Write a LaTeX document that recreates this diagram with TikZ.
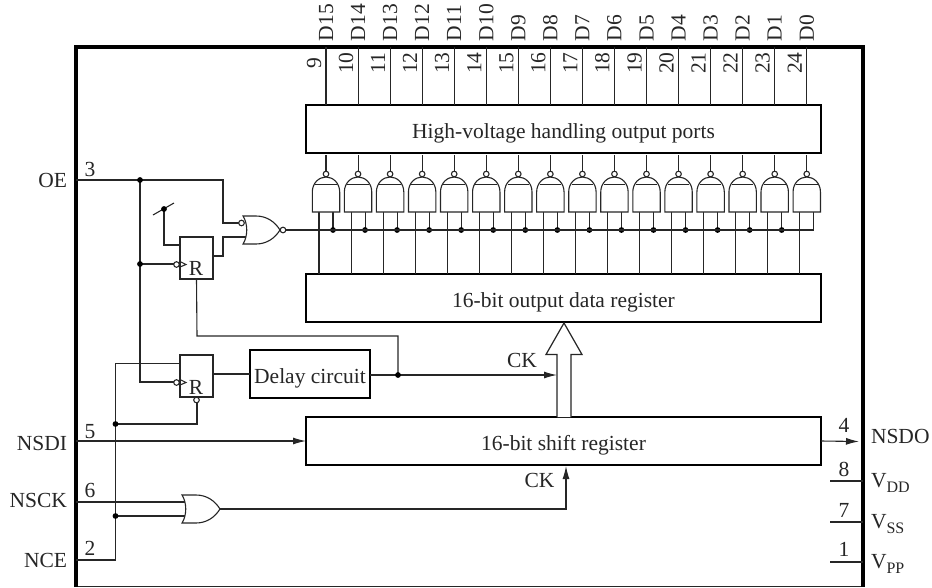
\documentclass[tikz,border=0pt]{standalone}
\usepackage{fontspec}
\setmainfont{Liberation Serif}
\usetikzlibrary{arrows.meta}
\definecolor{ink}{HTML}{262626}
\tikzset{
  wire/.style={draw=ink,line width=1.1pt},
  sig/.style={wire,-{Latex[length=13pt,width=7pt]}},
  block/.style={draw=black,line width=1.5pt,fill=white,inner sep=0pt,outer sep=0pt,text=ink,text height=18pt,text depth=0pt,font=\fontsize{21.5}{24}\selectfont},
  lbl/.style={inner sep=0pt,outer sep=0pt,text=ink,font=\fontsize{21.5}{24}\selectfont},
  gate/.style={draw=ink,line width=1.1pt,fill=white},
  bubble/.style={draw=ink,line width=1.1pt,fill=white},
  jn/.style={fill=black},
}
\newcommand{\Vsub}[1]{V\raisebox{-5pt}{\fontsize{16}{18}\selectfont #1}}
\begin{document}
\begin{tikzpicture}[x=1pt,y=-1pt]
\useasboundingbox (0,0) rectangle (932,587);
% chip outline
\draw[draw=ink,line width=1pt] (76,586) -- (863,586);
\draw[black,line width=3.4pt] (76,587) -- (76,47) -- (863,47) -- (863,587);
% blocks
\node[block,minimum width=515pt,minimum height=48pt] (hv) at (563.5,129) {High-voltage handling output ports};
\node[block,minimum width=515pt,minimum height=48pt] (odr) at (563.5,298) {16-bit output data register};
\node[block,minimum width=515pt,minimum height=48pt] (sr) at (563.5,441) {16-bit shift register};
\node[block,minimum width=120pt,minimum height=48pt] (delay) at (310,374) {Delay circuit};
\node[block,draw=ink,minimum width=33pt,minimum height=42pt] (ffa) at (196.5,258) {};
\node[block,draw=ink,minimum width=33pt,minimum height=42pt] (ffb) at (196.5,376) {};
\node[lbl,anchor=base] (ra) at (196,275) {R};
\node[lbl,anchor=base] (rb) at (196,394) {R};
% pins and gates
\foreach \i/\d/\p in {0/D15/9,1/D14/10,2/D13/11,3/D12/12,4/D11/13,5/D10/14,6/D9/15,7/D8/16,8/D7/17,9/D6/18,10/D5/19,11/D4/20,12/D3/21,13/D2/22,14/D1/23,15/D0/24}{
  \pgfmathsetmacro\xx{326+32.05*\i}
  \coordinate (top\i) at (\xx,47);
  \draw[wire] (top\i) -- (top\i |- hv.north);
  \node[lbl,rotate=90,anchor=base west] (name\i) at (\xx+7,41) {\d};
  \node[lbl,rotate=90,anchor=base] (num\i) at (\xx-5,63) {\p};
  % NAND gate
  \coordinate (gout\i) at (\xx,171);
  \coordinate (gl\i) at (\xx-7,212);
  \coordinate (gr\i) at (\xx+7,212);
  \coordinate (bus\i) at (\xx+7,230);
  \draw[wire] (\xx,155) -- (gout\i);
  \draw[wire] (gl\i) -- (gl\i |- odr.north);
  \draw[wire] (gr\i) -- (bus\i);
  \draw[gate] (\xx-13.7,212) -- (\xx-13.7,192) .. controls (\xx-13.7,183) and (\xx-7,177) .. (\xx,177) .. controls (\xx+7,177) and (\xx+13.7,183) .. (\xx+13.7,192) -- (\xx+13.7,212) -- cycle;
  \draw[wire,line width=1pt] (\xx-10.8,184) -- (\xx+10.8,184);
  \draw[bubble] (\xx,174) circle (2.8pt);
  \ifnum\i<15 \fill[jn] (bus\i) circle (2.9pt);\fi
}
% wires, OE
\coordinate (oe) at (76,180);
\coordinate (joe) at (140,180);
\coordinate (cka) at (177,264);
\coordinate (ckb) at (177,382);
\coordinate (nor1) at (239,223);
\coordinate (nor2) at (247,237);
\coordinate (norout) at (286,230);
\coordinate (sw) at (164,209);
\draw[wire] (oe) -- (223,180) -- (223,223) -- (nor1);
\draw[wire] (joe) -- (140,382) -- (ckb);
\draw[wire] (140,264) -- (cka);
\draw[wire] (ffa.east |- 0,256) -- (223,256) -- (223,237) -- (nor2);
\draw[wire] (sw) -- (164,245) -- (ffa.west |- 0,245);
\draw[wire] (153,215) -- (174,203);
\draw[wire] (norout) -- (bus15);
\draw[wire] (ffa.south) -- (197,336) -- (398,336) -- (398,375);
% delay
\coordinate (jd) at (398,375);
\coordinate (ckin) at (557,375);
\draw[wire] (ffb.east |- delay.west) -- (delay.west);
\draw[sig] (delay.east |- jd) -- (ckin);
% NCE / NSCK / NSDI
\coordinate (nce) at (76,560);
\coordinate (jn) at (115.5,516);
\coordinate (jr) at (115.5,424);
\draw[wire] (nce) -- (115.5,560) -- (115.5,363.5) -- (ffb.west |- 0,363.5);
\draw[wire] (jr) -- (197,424) -- (197,403);
\draw[sig] (76,441) -- (sr.west);
\draw[wire] (76,502) -- (185,502);
\draw[wire] (jn) -- (185,516);
\draw[sig] (220,509) -- (566,509) -- (566,466);
\draw[sig] (sr.east) -- (859,441.5);
\coordinate (vdd) at (830,481);
\coordinate (vss) at (830,522);
\coordinate (vpp) at (830,562);
\draw[wire] (vdd) -- (863,481);
\draw[wire] (vss) -- (863,522);
\draw[wire] (vpp) -- (863,562);
% wide bus arrow
\draw[wire,line width=1.2pt,fill=white] (557,417) -- (557,354.5) -- (546,354.5) -- (564,323) -- (582,354.5) -- (571,354.5) -- (571,417);
% NOR gate
\draw[gate] (243,216) -- (256,216) .. controls (267,216) and (275,222) .. (280,230) .. controls (275,238) and (267,244) .. (256,244) -- (243,244) .. controls (248,236) and (248,224) .. (243,216) -- cycle;
\draw[bubble] (283,230) circle (2.8pt);
\draw[bubble] (241.5,223) circle (2.8pt);
% OR gate
\draw[gate] (182,495) -- (196,495) .. controls (207,495) and (215,501) .. (220,509) .. controls (215,517) and (207,523) .. (196,523) -- (182,523) .. controls (187,515) and (187,503) .. (182,495) -- cycle;
% flip-flop inputs
\draw[bubble] (176.5,264.5) circle (2.8pt);
\draw[bubble] (176.5,382.5) circle (2.8pt);
\draw[wire] (180,261.5) -- (186,264.5) -- (180,267);
\draw[wire] (180,379.5) -- (186,382.5) -- (180,385);
\draw[bubble] (196.5,400) circle (2.8pt);
% junctions
\foreach \c in {joe,sw,jd,jn,jr}{\fill[jn] (\c) circle (2.9pt);}
\fill[jn] (140,264) circle (2.9pt);
% clock labels
\node[lbl,anchor=base] (lcka) at (522,367) {CK};
\node[lbl,anchor=base] (lckb) at (539.5,487) {CK};
% pin labels
\node[lbl,anchor=base east] (loe) at (67,187) {OE};
\node[lbl,anchor=base east] (lsdi) at (67,450) {NSDI};
\node[lbl,anchor=base east] (lsck) at (67,507.5) {NSCK};
\node[lbl,anchor=base east] (lce) at (67,567) {NCE};
\node[lbl,anchor=base] (n3) at (90,176) {3};
\node[lbl,anchor=base] (n5) at (90,438) {5};
\node[lbl,anchor=base] (n6) at (90,497) {6};
\node[lbl,anchor=base] (n2) at (90,555) {2};
\node[lbl,anchor=base] (n4) at (844,432) {4};
\node[lbl,anchor=base] (n8) at (844,476) {8};
\node[lbl,anchor=base] (n7) at (844,517) {7};
\node[lbl,anchor=base] (n1) at (844,556) {1};
\node[lbl,anchor=base west] (lsdo) at (871,443) {NSDO};
\node[lbl,anchor=base west] (lvdd) at (871,487) {\Vsub{DD}};
\node[lbl,anchor=base west] (lvss) at (871,528) {\Vsub{SS}};
\node[lbl,anchor=base west] (lvpp) at (871,568) {\Vsub{PP}};
\end{tikzpicture}
\end{document}
